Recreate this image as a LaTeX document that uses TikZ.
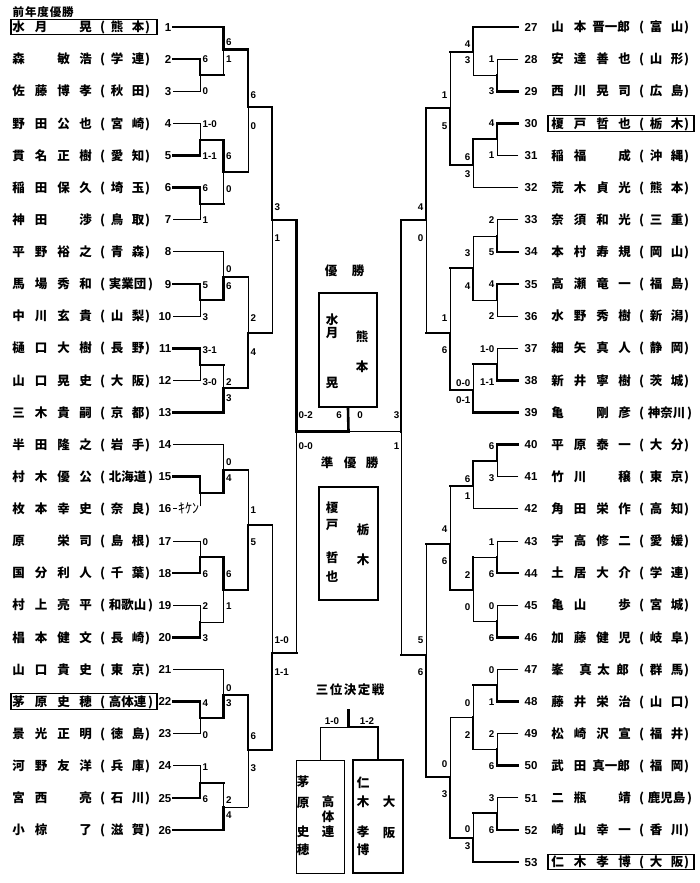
\documentclass[tikz,border=0pt]{standalone}
\usepackage{fontspec}
\setmainfont{Noto Sans CJK JP}
\newfontfamily\ar{Liberation Sans}
\usetikzlibrary{calc}
\newcommand\at[2]{\rlap{\hskip#1pt\makebox[0pt]{#2}}}
\newcommand\nme[4]{\at{18}{#1}\at{40.5}{#2}\at{63}{#3}\at{85}{#4}}
\newcommand\nmf[5]{\at{18}{#1}\at{40.5}{#2}\at{59}{#3}\at{71.5}{#4}\at{84}{#5}}
\newcommand\pf[2]{\at{102}{(}\at{116.5}{#1}\at{137.5}{#2}\at{147}{)}}
\newcommand\pfc[3]{\at{102}{(}\at{114.5}{#1}\at{127}{#2}\at{139.5}{#3}\at{150}{)}}
\newcommand\Y[1]{{27+(#1-1)*32.12}}
\newcommand\YR[1]{{27+(#1-27)*32.12}}
\newcommand\ed[4]{\draw[#1] (#3) -- (#3 -| #4); \draw[#2] (#3 -| #4) -- (#4);}
\newcounter{lbl}
\newcommand\sL[3]{\stepcounter{lbl}\node[sl] (s\arabic{lbl}) at (#1,#2) {#3};}
\newcommand\sR[3]{\stepcounter{lbl}\node[sr] (s\arabic{lbl}) at (#1,#2) {#3};}
\newcommand\sC[3]{\stepcounter{lbl}\node[sc] (s\arabic{lbl}) at (#1,#2) {#3};}
\newcommand\ch[3]{\stepcounter{lbl}\node[cj] (c\arabic{lbl}) at (#1,#2) {#3};}
\tikzset{
 thk/.style={line width=2.6pt, line cap=rect},
 thn/.style={line width=0.85pt, line cap=rect},
 nm/.style={anchor=west, inner sep=0pt, font=\fontsize{12.5}{12.5}\selectfont\bfseries, text height=10.5pt, text depth=1pt},
 nl/.style={anchor=east, inner sep=0pt, font=\ar\fontsize{11.5}{11.5}\selectfont\bfseries, text height=8.3pt, text depth=0pt},
 nr/.style={nl, anchor=west},
 sl/.style={anchor=west, inner sep=0pt, font=\ar\fontsize{9.8}{9.8}\selectfont\bfseries, text height=7pt, text depth=0pt},
 sr/.style={sl, anchor=east},
 sc/.style={sl, anchor=center},
 cj/.style={inner sep=0pt, font=\fontsize{12.5}{12.5}\selectfont\bfseries, text height=10.5pt, text depth=1pt},
 nbox/.style={draw, line width=1.1pt, minimum width=146pt, minimum height=15.5pt, inner sep=0pt},
 wbox/.style={draw, inner sep=0pt},
}
\begin{document}
\begin{tikzpicture}[x=1pt,y=-1pt]
\fill[white] (0,0) rectangle (700,883);
\useasboundingbox (0,0) rectangle (700,883);
% row anchors
\foreach \i in {1,...,26} {\coordinate (L\i) at (173,{27+(\i-1)*32.12});
  \node[nl] (num\i) at (171.5,{27+(\i-1)*32.12}) {\i};}
\foreach \j in {27,...,53} {\coordinate (R\j) at (518,{27+(\j-27)*32.12});
  \node[nr] (num\j) at (524.5,{27+(\j-27)*32.12}) {\j};}
% header
\node[anchor=west, inner sep=0pt, font=\fontsize{11.5}{11.5}\selectfont\bfseries] (prev) at (12,12.5)
  {\makebox[12.4pt]{前}\makebox[12.4pt]{年}\makebox[12.4pt]{度}\makebox[12.4pt]{優}\makebox[12.4pt]{勝}};
% name boxes
\node[nbox] (b1) at (84,\Y{1}) {};
\node[nbox] (b22) at (84,\Y{22}) {};
\node[nbox] (b30) at (621,\YR{30}) {};
\node[nbox] (b53) at (621,\YR{53}) {};
% left names
\node[nm] (n1) at (0,\Y{1}) {\nme{水}{月}{}{晃}\pf{熊}{本}};
\node[nm] (n2) at (0,\Y{2}) {\nme{森}{}{敏}{浩}\pf{学}{連}};
\node[nm] (n3) at (0,\Y{3}) {\nme{佐}{藤}{博}{孝}\pf{秋}{田}};
\node[nm] (n4) at (0,\Y{4}) {\nme{野}{田}{公}{也}\pf{宮}{崎}};
\node[nm] (n5) at (0,\Y{5}) {\nme{貫}{名}{正}{樹}\pf{愛}{知}};
\node[nm] (n6) at (0,\Y{6}) {\nme{稲}{田}{保}{久}\pf{埼}{玉}};
\node[nm] (n7) at (0,\Y{7}) {\nme{神}{田}{}{渉}\pf{鳥}{取}};
\node[nm] (n8) at (0,\Y{8}) {\nme{平}{野}{裕}{之}\pf{青}{森}};
\node[nm] (n9) at (0,\Y{9}) {\nme{馬}{場}{秀}{和}\pfc{実}{業}{団}};
\node[nm] (n10) at (0,\Y{10}) {\nme{中}{川}{玄}{貴}\pf{山}{梨}};
\node[nm] (n11) at (0,\Y{11}) {\nme{樋}{口}{大}{樹}\pf{長}{野}};
\node[nm] (n12) at (0,\Y{12}) {\nme{山}{口}{晃}{史}\pf{大}{阪}};
\node[nm] (n13) at (0,\Y{13}) {\nme{三}{木}{貴}{嗣}\pf{京}{都}};
\node[nm] (n14) at (0,\Y{14}) {\nme{半}{田}{隆}{之}\pf{岩}{手}};
\node[nm] (n15) at (0,\Y{15}) {\nme{村}{木}{優}{公}\pfc{北}{海}{道}};
\node[nm] (n16) at (0,\Y{16}) {\nme{枚}{本}{幸}{史}\pf{奈}{良}};
\node[nm] (n17) at (0,\Y{17}) {\nme{原}{}{栄}{司}\pf{島}{根}};
\node[nm] (n18) at (0,\Y{18}) {\nme{国}{分}{利}{人}\pf{千}{葉}};
\node[nm] (n19) at (0,\Y{19}) {\nme{村}{上}{亮}{平}\pfc{和}{歌}{山}};
\node[nm] (n20) at (0,\Y{20}) {\nme{椙}{本}{健}{文}\pf{長}{崎}};
\node[nm] (n21) at (0,\Y{21}) {\nme{山}{口}{貴}{史}\pf{東}{京}};
\node[nm] (n22) at (0,\Y{22}) {\nme{茅}{原}{史}{穂}\pfc{高}{体}{連}};
\node[nm] (n23) at (0,\Y{23}) {\nme{景}{光}{正}{明}\pf{徳}{島}};
\node[nm] (n24) at (0,\Y{24}) {\nme{河}{野}{友}{洋}\pf{兵}{庫}};
\node[nm] (n25) at (0,\Y{25}) {\nme{宮}{西}{}{亮}\pf{石}{川}};
\node[nm] (n26) at (0,\Y{26}) {\nme{小}{椋}{}{了}\pf{滋}{賀}};
% right names
\node[nm] (n27) at (539,\YR{27}) {\nmf{山}{本}{晋}{一}{郎}\pf{富}{山}};
\node[nm] (n28) at (539,\YR{28}) {\nme{安}{達}{善}{也}\pf{山}{形}};
\node[nm] (n29) at (539,\YR{29}) {\nme{西}{川}{晃}{司}\pf{広}{島}};
\node[nm] (n30) at (539,\YR{30}) {\nme{榎}{戸}{哲}{也}\pf{栃}{木}};
\node[nm] (n31) at (539,\YR{31}) {\nme{稲}{福}{}{成}\pf{沖}{縄}};
\node[nm] (n32) at (539,\YR{32}) {\nme{荒}{木}{貞}{光}\pf{熊}{本}};
\node[nm] (n33) at (539,\YR{33}) {\nme{奈}{須}{和}{光}\pf{三}{重}};
\node[nm] (n34) at (539,\YR{34}) {\nme{本}{村}{寿}{規}\pf{岡}{山}};
\node[nm] (n35) at (539,\YR{35}) {\nme{高}{瀬}{竜}{一}\pf{福}{島}};
\node[nm] (n36) at (539,\YR{36}) {\nme{水}{野}{秀}{樹}\pf{新}{潟}};
\node[nm] (n37) at (539,\YR{37}) {\nme{細}{矢}{真}{人}\pf{静}{岡}};
\node[nm] (n38) at (539,\YR{38}) {\nme{新}{井}{寧}{樹}\pf{茨}{城}};
\node[nm] (n39) at (539,\YR{39}) {\nme{亀}{}{剛}{彦}\pfc{神}{奈}{川}};
\node[nm] (n40) at (539,\YR{40}) {\nme{平}{原}{泰}{一}\pf{大}{分}};
\node[nm] (n41) at (539,\YR{41}) {\nme{竹}{川}{}{穣}\pf{東}{京}};
\node[nm] (n42) at (539,\YR{42}) {\nme{角}{田}{栄}{作}\pf{高}{知}};
\node[nm] (n43) at (539,\YR{43}) {\nme{宇}{高}{修}{二}\pf{愛}{媛}};
\node[nm] (n44) at (539,\YR{44}) {\nme{土}{居}{大}{介}\pf{学}{連}};
\node[nm] (n45) at (539,\YR{45}) {\nme{亀}{山}{}{歩}\pf{宮}{城}};
\node[nm] (n46) at (539,\YR{46}) {\nme{加}{藤}{健}{児}\pf{岐}{阜}};
\node[nm] (n47) at (539,\YR{47}) {\at{18}{峯}\at{46}{真}\at{64}{太}\at{83}{郎}\pf{群}{馬}};
\node[nm] (n48) at (539,\YR{48}) {\nme{藤}{井}{栄}{治}\pf{山}{口}};
\node[nm] (n49) at (539,\YR{49}) {\nme{松}{崎}{沢}{宣}\pf{福}{井}};
\node[nm] (n50) at (539,\YR{50}) {\nmf{武}{田}{真}{一}{郎}\pf{福}{岡}};
\node[nm] (n51) at (539,\YR{51}) {\nme{二}{瓶}{}{靖}\pfc{鹿}{児}{島}};
\node[nm] (n52) at (539,\YR{52}) {\nme{崎}{山}{幸}{一}\pf{香}{川}};
\node[nm] (n53) at (539,\YR{53}) {\nme{仁}{木}{孝}{博}\pf{大}{阪}};
% left junctions
\coordinate (jA) at (200,75);   \coordinate (jB) at (223.5,49.5);
\coordinate (jC) at (200,140);  \coordinate (jD) at (200,204);
\coordinate (jE) at (223.5,172);\coordinate (jF) at (248,107);
\coordinate (jG) at (200,300);  \coordinate (jH) at (223.5,277);
\coordinate (jI) at (200,365);  \coordinate (jJ) at (223.5,388);
\coordinate (jK) at (248,333);  \coordinate (jL) at (272,220);
\coordinate (jM) at (200,493);  \coordinate (jN) at (223.5,470);
\coordinate (jO) at (200,557);  \coordinate (jP) at (200,622);
\coordinate (jQ) at (223.5,590);\coordinate (jR) at (248,525);
\coordinate (jS) at (200,718);  \coordinate (jT) at (223.5,695);
\coordinate (jU) at (200,783);  \coordinate (jV) at (223.5,807);
\coordinate (jW) at (248,750);  \coordinate (jX) at (272,653);
\coordinate (jSF) at (296.5,431.5);
\coordinate (FIN) at (348.5,431.5);
\coordinate (L16e) at (200,506);
% right junctions
\coordinate (kA) at (497,75);   \coordinate (kB) at (473,52);
\coordinate (kC) at (497,139);  \coordinate (kD) at (473,165);
\coordinate (kE) at (450,108);  \coordinate (kF) at (497,236);
\coordinate (kG) at (473,268);  \coordinate (kH) at (497,300);
\coordinate (kI) at (497,364);  \coordinate (kJ) at (473,390);
\coordinate (kK) at (450,333);  \coordinate (kL) at (426,220);
\coordinate (kM) at (497,461);  \coordinate (kN) at (473,486);
\coordinate (kO) at (497,557);  \coordinate (kP) at (497,621);
\coordinate (kQ) at (473,590);  \coordinate (kR) at (450,544);
\coordinate (kS) at (497,685);  \coordinate (kT) at (497,749);
\coordinate (kU) at (473,717);  \coordinate (kV) at (497,813);
\coordinate (kW) at (473,838);  \coordinate (kX) at (450,777);
\coordinate (kY) at (426,655);  \coordinate (kSF) at (401,431.5);
% center boxes
\node[wbox, line width=2.2pt, minimum width=58pt, minimum height=114pt] (champ) at (348,350) {};
\node[wbox, line width=2.2pt, minimum width=59pt, minimum height=113pt] (runner) at (348.5,543.5) {};
\node[wbox, line width=0.9pt, minimum width=48pt, minimum height=113pt] (tpL) at (320,816.5) {};
\node[wbox, line width=2.4pt, minimum width=50pt, minimum height=113pt] (tpR) at (378,816.5) {};
% left bracket
\ed{thk}{thk}{L2}{jA} \ed{thn}{thn}{L3}{jA}
\ed{thk}{thk}{L1}{jB} \ed{thk}{thn}{jA}{jB}
\ed{thn}{thn}{L4}{jC} \ed{thk}{thk}{L5}{jC}
\ed{thk}{thk}{L6}{jD} \ed{thn}{thn}{L7}{jD}
\ed{thk}{thk}{jC}{jE} \ed{thk}{thn}{jD}{jE}
\ed{thk}{thk}{jB}{jF} \ed{thk}{thn}{jE}{jF}
\ed{thk}{thk}{L9}{jG} \ed{thn}{thn}{L10}{jG}
\ed{thn}{thn}{L8}{jH} \ed{thk}{thk}{jG}{jH}
\ed{thk}{thk}{L11}{jI} \ed{thn}{thn}{L12}{jI}
\ed{thk}{thn}{jI}{jJ} \ed{thk}{thk}{L13}{jJ}
\ed{thk}{thn}{jH}{jK} \ed{thk}{thk}{jJ}{jK}
\ed{thk}{thk}{jF}{jL} \ed{thk}{thn}{jK}{jL}
\ed{thk}{thk}{jL}{jSF}
\ed{thk}{thk}{L15}{jM}
\draw[thn] (L16) -- ++(4,0);
\draw[thn] (L16e) -- (jM);
\node[inner sep=0pt, font=\fontsize{14}{14}\selectfont] (kiken) at (188.5,508.5) {ｷｹﾝ};
\ed{thn}{thn}{L14}{jN} \ed{thk}{thk}{jM}{jN}
\ed{thn}{thn}{L17}{jO} \ed{thk}{thk}{L18}{jO}
\ed{thn}{thn}{L19}{jP} \ed{thk}{thk}{L20}{jP}
\ed{thk}{thk}{jO}{jQ} \ed{thn}{thn}{jP}{jQ}
\ed{thk}{thn}{jN}{jR} \ed{thk}{thk}{jQ}{jR}
\ed{thk}{thk}{L22}{jS} \ed{thn}{thn}{L23}{jS}
\ed{thn}{thn}{L21}{jT} \ed{thk}{thk}{jS}{jT}
\ed{thn}{thn}{L24}{jU} \ed{thk}{thk}{L25}{jU}
\ed{thk}{thn}{jU}{jV} \ed{thk}{thk}{L26}{jV}
\ed{thk}{thk}{jT}{jW} \ed{thn}{thn}{jV}{jW}
\ed{thk}{thn}{jR}{jX} \ed{thk}{thk}{jW}{jX}
\ed{thk}{thn}{jX}{jSF}
\draw[thk] (jSF) -- (FIN);
\draw[thk] (FIN) -- (champ.south);
% right bracket
\ed{thn}{thn}{R28}{kA} \ed{thk}{thk}{R29}{kA}
\ed{thk}{thk}{R27}{kB} \ed{thn}{thn}{kA}{kB}
\ed{thk}{thk}{R30}{kC} \ed{thn}{thn}{R31}{kC}
\ed{thk}{thk}{kC}{kD} \ed{thn}{thn}{R32}{kD}
\ed{thk}{thn}{kB}{kE} \ed{thk}{thk}{kD}{kE}
\ed{thn}{thn}{R33}{kF} \ed{thk}{thk}{R34}{kF}
\ed{thk}{thk}{R35}{kH} \ed{thn}{thn}{R36}{kH}
\ed{thn}{thn}{kF}{kG} \ed{thn}{thk}{kH}{kG}
\ed{thn}{thn}{R37}{kI} \ed{thk}{thk}{R38}{kI}
\ed{thk}{thn}{kI}{kJ} \ed{thk}{thk}{R39}{kJ}
\ed{thk}{thn}{kG}{kK} \ed{thk}{thk}{kJ}{kK}
\ed{thk}{thk}{kE}{kL} \ed{thk}{thn}{kK}{kL}
\ed{thk}{thk}{kL}{kSF}
\ed{thk}{thk}{R40}{kM} \ed{thn}{thn}{R41}{kM}
\ed{thk}{thk}{kM}{kN} \ed{thn}{thn}{R42}{kN}
\ed{thn}{thn}{R43}{kO} \ed{thk}{thk}{R44}{kO}
\ed{thn}{thn}{R45}{kP} \ed{thk}{thk}{R46}{kP}
\ed{thn}{thk}{kO}{kQ} \ed{thn}{thn}{kP}{kQ}
\ed{thk}{thn}{kN}{kR} \ed{thk}{thk}{kQ}{kR}
\ed{thn}{thn}{R47}{kS} \ed{thk}{thk}{R48}{kS}
\ed{thn}{thn}{R49}{kT} \ed{thk}{thk}{R50}{kT}
\ed{thk}{thn}{kS}{kU} \ed{thn}{thk}{kT}{kU}
\ed{thn}{thn}{R51}{kV} \ed{thk}{thk}{R52}{kV}
\ed{thk}{thn}{kV}{kW} \ed{thk}{thk}{R53}{kW}
\ed{thn}{thn}{kU}{kX} \ed{thk}{thk}{kW}{kX}
\ed{thk}{thn}{kR}{kY} \ed{thk}{thk}{kX}{kY}
\ed{thk}{thn}{kY}{kSF}
\draw[thn] (kSF) -- (FIN);
% third place bracket
\coordinate (TPtop) at (348.5,710);
\coordinate (TP) at (348.5,727);
\draw[thk] (TPtop) -- (TP);
\draw[thn] (TP) -| (tpL.north);
\draw[thk] (TP) -| (tpR.north);
% left scores
\sL{202.5}{59}{6}\sL{202.5}{91}{0}
\sL{226}{42}{6}\sL{226}{59}{1}
\sL{202.5}{124}{1-0}\sL{202.5}{156}{1-1}
\sL{202.5}{188}{6}\sL{202.5}{220}{1}
\sL{226}{156}{6}\sL{226}{189}{0}
\sL{250.5}{95}{6}\sL{250.5}{126}{0}
\sL{274.5}{207}{3}\sL{274.5}{238}{1}
\sL{226}{269}{0}\sL{226}{286}{6}
\sL{202.5}{285}{5}\sL{202.5}{317}{3}
\sL{202.5}{350}{3-1}\sL{202.5}{382}{3-0}
\sL{226}{382}{2}\sL{226}{398}{3}
\sL{250.5}{318}{2}\sL{250.5}{352}{4}
\sL{226}{462}{0}\sL{226}{478}{4}
\sL{250.5}{510}{1}\sL{250.5}{542}{5}
\sL{202.5}{542}{0}\sL{202.5}{574}{6}
\sL{226}{574}{6}\sL{226}{606}{1}
\sL{202.5}{606}{2}\sL{202.5}{638}{3}
\sL{274.5}{640}{1-0}\sL{274.5}{672}{1-1}
\sL{226}{688}{0}\sL{226}{703}{3}
\sL{202.5}{703}{4}\sL{202.5}{735}{0}
\sL{250.5}{736}{6}\sL{250.5}{768}{3}
\sL{202.5}{767}{1}\sL{202.5}{799}{6}
\sL{226}{800}{2}\sL{226}{815}{4}
% center scores
\sL{298.5}{415}{0-2}\sC{339}{415}{6}\sC{360}{415}{0}\sR{399.5}{415}{3}
\sL{298.5}{446}{0-0}\sR{399.5}{446}{1}
% right scores
\sR{494.5}{59}{1}\sR{494.5}{91}{3}
\sR{470.5}{44}{4}\sR{470.5}{60}{3}
\sR{494.5}{123}{4}\sR{494.5}{155}{1}
\sR{470.5}{157}{6}\sR{470.5}{174}{3}
\sR{447.5}{95}{1}\sR{447.5}{126}{5}
\sR{423.5}{207}{4}\sR{423.5}{238}{0}
\sR{494.5}{220}{2}\sR{494.5}{252}{5}
\sR{470.5}{253}{3}\sR{470.5}{286}{4}
\sR{494.5}{284}{4}\sR{494.5}{316}{2}
\sR{447.5}{318}{1}\sR{447.5}{350}{6}
\sR{494.5}{349}{1-0}\sR{494.5}{382}{1-1}
\sR{470.5}{383}{0-0}\sR{470.5}{400}{0-1}
\sR{494.5}{446}{6}\sR{494.5}{478}{3}
\sR{470.5}{479}{6}\sR{470.5}{496}{1}
\sR{447.5}{529}{4}\sR{447.5}{561}{6}
\sR{494.5}{542}{1}\sR{494.5}{574}{6}
\sR{470.5}{575}{2}\sR{470.5}{607}{0}
\sR{494.5}{606}{0}\sR{494.5}{638}{6}
\sR{423.5}{640}{5}\sR{423.5}{672}{6}
\sR{494.5}{670}{0}\sR{494.5}{702}{1}
\sR{470.5}{703}{0}\sR{470.5}{735}{2}
\sR{494.5}{734}{2}\sR{494.5}{766}{6}
\sR{447.5}{764}{0}\sR{447.5}{794}{3}
\sR{494.5}{798}{3}\sR{494.5}{830}{6}
\sR{470.5}{829}{0}\sR{470.5}{846}{3}
% third place scores
\sC{332}{721}{1-0}\sC{367}{721}{1-2}
% center titles
\ch{331}{271}{優}\ch{358}{271}{勝}
\ch{327}{463}{準}\ch{350}{463}{優}\ch{372}{463}{勝}
\node[cj] (third) at (350,690) {\makebox[14pt]{三}\makebox[14pt]{位}\makebox[14pt]{決}\makebox[14pt]{定}\makebox[14pt]{戦}};
% champion box text
\ch{332}{320}{水}\ch{332}{333}{月}\ch{332}{383}{晃}\ch{362}{337}{熊}\ch{362}{367}{本}
% runner-up box text
\ch{332}{508}{榎}\ch{332}{525}{戸}\ch{332}{558}{哲}\ch{332}{577}{也}\ch{363}{530}{栃}\ch{363}{560}{木}
% third place boxes text
\ch{303}{782}{茅}\ch{303}{803}{原}\ch{303}{832}{史}\ch{303}{850}{穂}
\ch{328}{802}{高}\ch{328}{817}{体}\ch{328}{832}{連}
\ch{363}{783}{仁}\ch{363}{802}{木}\ch{363}{832}{孝}\ch{363}{850}{博}
\ch{389}{802}{大}\ch{389}{833}{阪}
\end{tikzpicture}
\end{document}
